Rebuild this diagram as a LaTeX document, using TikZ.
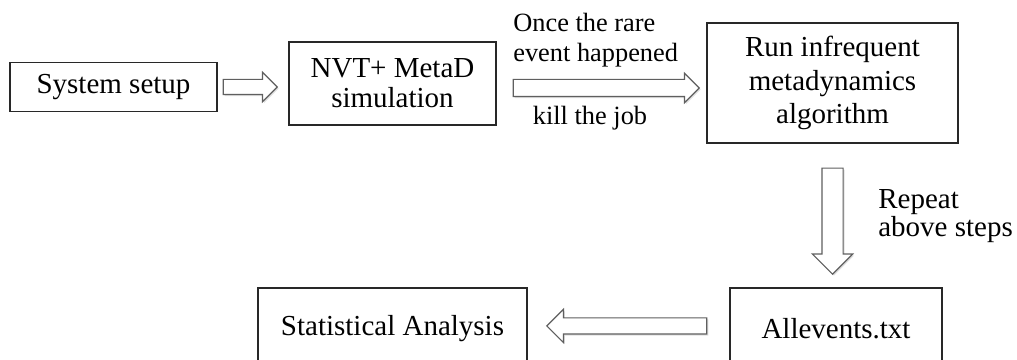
\documentclass[tikz,border=0pt]{standalone}
\usepackage{fontspec}
\setmainfont{Liberation Serif}
\usepackage{tikz}
\usetikzlibrary{shapes.arrows, shadows}
\definecolor{boxline}{RGB}{40, 40, 40}
\definecolor{arrowline}{RGB}{95, 95, 95}

\begin{document}
\begin{tikzpicture}[
        stepbox/.style={draw=boxline, line width=0.6pt, align=center, inner sep=0pt,
            font=\fontsize{16.5}{17}\selectfont},
        bigarrow/.style={single arrow, draw=arrowline, line width=0.7pt, fill=white,
            inner sep=0pt, text depth=0pt, single arrow head extend=0.14cm,
            drop shadow={opacity=0.25, shadow xshift=0.03cm, shadow yshift=-0.03cm}},
        note/.style={align=left, inner sep=0pt, font=\fontsize{15}{17}\selectfont}]
        \useasboundingbox (0,0) rectangle (20.34,7.2);
        \clip (0,0) rectangle (20.34,7.2);

        % Boxes
        \node[stepbox, minimum width=4.14cm, minimum height=0.98cm] (setup) at (2.27,5.46) {System setup};
        \node[stepbox, minimum width=4.14cm, minimum height=1.66cm] (nvt) at (7.85,5.53) {NVT+ MetaD\\simulation};
        \node[stepbox, minimum width=5.02cm, minimum height=2.40cm, font=\fontsize{16.5}{19.3}\selectfont] (run) at (16.65,5.54) {Run infrequent\\metadynamics\\algorithm};
        \node[stepbox, minimum width=4.24cm, minimum height=1.64cm] (allev) at (16.72,0.62) {Allevents.txt};
        \node[stepbox, minimum width=5.38cm, minimum height=1.64cm] (stat) at (7.85,0.62) {Statistical Analysis};

        % Arrows
        \node[bigarrow, text height=0.28cm, minimum height=1.08cm, anchor=tail] (a1) at ([xshift=0.1cm]setup.east) {};
        \node[bigarrow, text height=0.32cm, minimum height=3.72cm, single arrow head extend=0.12cm, anchor=tail] (a2) at ([shift={(0.32,-0.09)}]nvt.east) {};
        \node[bigarrow, text height=0.40cm, minimum height=2.12cm, single arrow head extend=0.19cm, rotate=-90, anchor=tail] (a3) at ([yshift=-0.48cm]run.south) {};
        \node[bigarrow, text height=0.30cm, minimum height=3.20cm, single arrow head extend=0.17cm, rotate=180, anchor=tail] (a4) at ([shift={(-0.44,0.06)}]allev.west) {};

        % Labels
        \node[note, anchor=west] (once) at (10.26,6.4) {Once the rare\\event happened};
        \node[note] (kill) at (11.8,4.84) {kill the job};
        \node[note, anchor=west, font=\fontsize{16.5}{15.5}\selectfont] (repeat) at (17.56,2.88) {Repeat\\above steps};
    \end{tikzpicture}
\end{document}
